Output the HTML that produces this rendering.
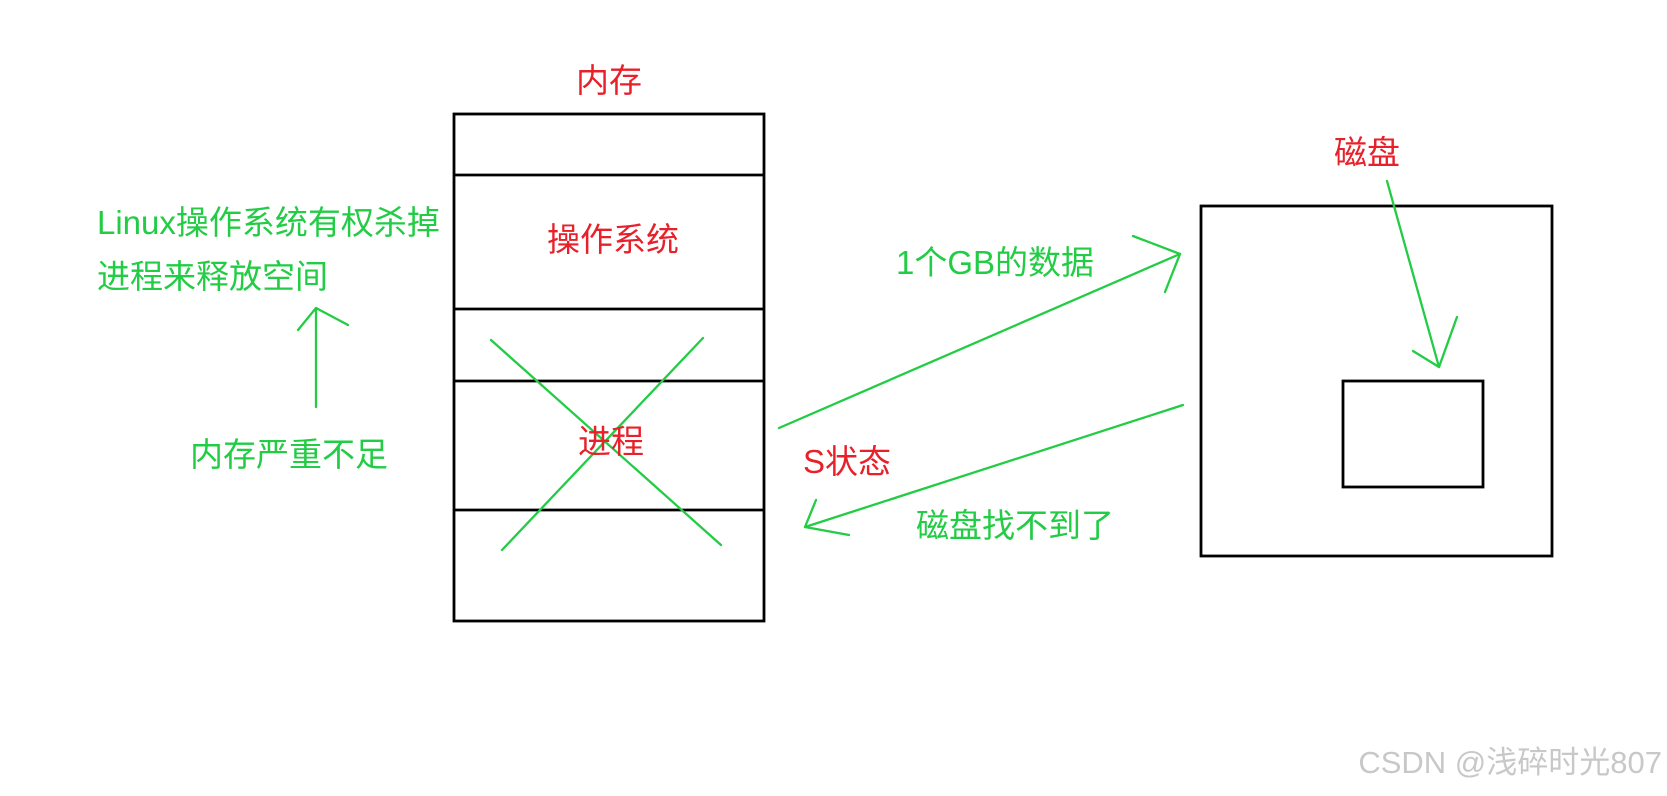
<!DOCTYPE html>
<html><head><meta charset="utf-8"><style>
body{margin:0;background:#fff;width:1667px;height:791px;overflow:hidden}
svg text{font-family:"Liberation Sans","Noto Sans CJK SC",sans-serif}
</style></head><body>
<svg width="1667" height="791" xmlns="http://www.w3.org/2000/svg">
<g fill="none" stroke="#000" stroke-width="2.8">
<rect x="454" y="114" width="310" height="507"/>
<line x1="454" y1="175" x2="764" y2="175"/>
<line x1="454" y1="309" x2="764" y2="309"/>
<line x1="454" y1="381" x2="764" y2="381"/>
<line x1="454" y1="510" x2="764" y2="510"/>
<rect x="1201" y="206" width="351" height="350"/>
<rect x="1343" y="381" width="140" height="106"/>
</g>
<g fill="none" stroke="#22cc44" stroke-width="2.3" stroke-linecap="round" stroke-linejoin="round">
<line x1="491" y1="340" x2="721" y2="545"/>
<line x1="703" y1="338" x2="502" y2="550"/>
<line x1="316" y1="407" x2="316" y2="308"/>
<polyline points="298,330 316,308 348,325"/>
<line x1="779" y1="428" x2="1180" y2="254"/>
<polyline points="1133,236 1180,254 1165,292"/>
<line x1="1183" y1="405" x2="805" y2="527"/>
<polyline points="816,500 805,527 849,535"/>
<line x1="1387" y1="181" x2="1439" y2="367"/>
<polyline points="1413,351 1439,367 1457,317"/>
</g>
<g font-size="33" fill="#e8202a" text-anchor="middle">
<text x="609" y="92">内存</text>
<text x="613" y="251">操作系统</text>
<text x="611" y="453">进程</text>
<text x="1367" y="164">磁盘</text>
<text x="803" y="473" text-anchor="start">S状态</text>
</g>
<g font-size="33" fill="#22cc44">
<text x="97" y="234">Linux操作系统有权杀掉</text>
<text x="97" y="288">进程来释放空间</text>
<text x="190" y="466">内存严重不足</text>
<text x="896" y="274">1个GB的数据</text>
<text x="916" y="537">磁盘找不到了</text>
</g>
<text x="1662" y="773" font-size="31" fill="#c8c8c8" text-anchor="end">CSDN @浅碎时光807</text>
</svg>
</body></html>
